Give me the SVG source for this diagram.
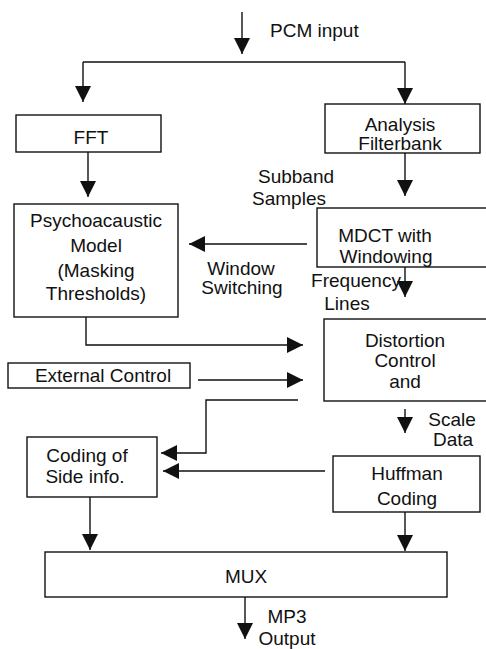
<svg xmlns="http://www.w3.org/2000/svg" width="486" height="649" viewBox="0 0 486 649">
<defs>
<marker id="ah" markerUnits="userSpaceOnUse" markerWidth="16" markerHeight="16" refX="16" refY="8" orient="auto">
<path d="M0,0 L16,8 L0,16 z" fill="#111"/>
</marker>
<style>
.box{fill:#fff;stroke:#111;stroke-width:1.4}
.c{fill:none;stroke:#111;stroke-width:1.4}
.a{marker-end:url(#ah)}
text{font-family:"Liberation Sans",Arial,sans-serif;font-size:19px;fill:#111}
.m{text-anchor:middle}
</style>
</defs>
<rect width="486" height="649" fill="#fff"/>
<g id="connectors">
<path class="c a" d="M242,12 V54"/>
<path class="c" d="M83,62 H405"/>
<path class="c a" d="M83,62 V102"/>
<path class="c a" d="M405,62 V104"/>
<path class="c a" d="M88,152 V197"/>
<path class="c a" d="M405,153 V196"/>
<path class="c a" d="M307,244 H189"/>
<path class="c a" d="M405,267 V297"/>
<path class="c a" d="M86,317 V345 H303"/>
<path class="c a" d="M198,380 H303"/>
<path class="c a" d="M298,400 H206 V453 H161"/>
<path class="c a" d="M405,409 V433"/>
<path class="c a" d="M325,471 H163"/>
<path class="c a" d="M90,497 V550"/>
<path class="c a" d="M405,512 V551"/>
<path class="c a" d="M245,597 V639"/>
</g>
<g id="labels">
<text x="270" y="37">PCM input</text>
<text class="m" x="296" y="183">Subband</text>
<text class="m" x="289" y="205">Samples</text>
<text class="m" x="241" y="275">Window</text>
<text class="m" x="242" y="294">Switching</text>
<text class="m" x="356" y="287">Frequency</text>
<text class="m" x="347" y="310">Lines</text>
<text class="m" x="452" y="426">Scale</text>
<text class="m" x="453" y="446">Data</text>
<text class="m" x="287" y="623">MP3</text>
<text class="m" x="287" y="645">Output</text>
</g>
<g id="fft">
<rect class="box" x="16" y="115" width="145" height="37"/>
<text class="m" x="91" y="144">FFT</text>
</g>
<g id="analysis">
<rect class="box" x="325" y="104" width="155" height="49"/>
<text class="m" x="400" y="131">Analysis</text>
<text class="m" x="400" y="150">Filterbank</text>
</g>
<g id="psycho">
<rect class="box" x="14" y="204" width="164" height="113"/>
<text class="m" x="96" y="227">Psychoacaustic</text>
<text class="m" x="96" y="252">Model</text>
<text class="m" x="96" y="277">(Masking</text>
<text class="m" x="96" y="300">Thresholds)</text>
</g>
<g id="mdct">
<rect class="box" x="317" y="208" width="180" height="59"/>
<text class="m" x="385" y="242">MDCT with</text>
<text class="m" x="386" y="263">Windowing</text>
</g>
<g id="distortion">
<rect class="box" x="324" y="319" width="180" height="82"/>
<text class="m" x="405" y="347">Distortion</text>
<text class="m" x="405" y="367">Control</text>
<text class="m" x="405" y="388">and</text>
</g>
<g id="external">
<rect class="box" x="8" y="363" width="182" height="25"/>
<text class="m" x="103" y="382">External Control</text>
</g>
<g id="sideinfo">
<rect class="box" x="27" y="437" width="130" height="60"/>
<text class="m" x="87" y="462">Coding of</text>
<text class="m" x="85" y="483">Side info.</text>
</g>
<g id="huffman">
<rect class="box" x="333" y="456" width="147" height="56"/>
<text class="m" x="407" y="480">Huffman</text>
<text class="m" x="407" y="505">Coding</text>
</g>
<g id="mux">
<rect class="box" x="45" y="552" width="402" height="45"/>
<text class="m" x="246" y="583">MUX</text>
</g>
</svg>
